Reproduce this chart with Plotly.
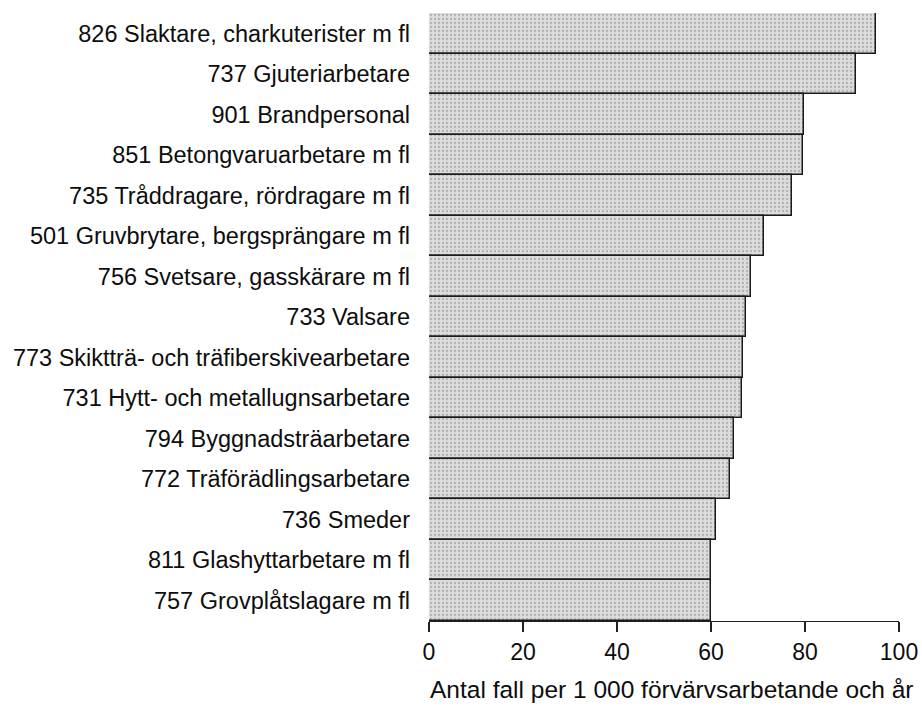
import plotly.graph_objects as go

# Occupations, listed from the top bar to the bottom bar
occupations = [
    "826 Slaktare, charkuterister m fl",
    "737 Gjuteriarbetare",
    "901 Brandpersonal",
    "851 Betongvaruarbetare m fl",
    "735 Tråddragare, rördragare m fl",
    "501 Gruvbrytare, bergsprängare m fl",
    "756 Svetsare, gasskärare m fl",
    "733 Valsare",
    "773 Skiktträ- och träfiberskivearbetare",
    "731 Hytt- och metallugnsarbetare",
    "794 Byggnadsträarbetare",
    "772 Träförädlingsarbetare",
    "736 Smeder",
    "811 Glashyttarbetare m fl",
    "757 Grovplåtslagare m fl",
]

# Cases per 1 000 employed per year
cases = [95.0, 90.9, 79.8, 79.5, 77.2, 71.3, 68.5, 67.4, 66.9, 66.7, 64.9, 64.0, 61.0, 59.9, 59.9]

x_ticks = [0, 20, 40, 60, 80, 100]
x_title = "Antal fall per 1 000 förvärvsarbetande och år"

FONT = "Liberation Sans, Arial, Helvetica, sans-serif"
INK = "#0d0d0d"

fig = go.Figure(
    go.Bar(
        x=cases,
        y=occupations,
        orientation="h",
        marker=dict(
            color="#d4d4d4",
            line=dict(color="#1a1a1a", width=1.5),
            pattern=dict(shape=".", fgcolor="#858585", bgcolor="#dcdcdc", size=4, solidity=0.25),
        ),
        hoverinfo="x+y",
    )
)

fig.update_layout(
    width=922,
    height=710,
    margin=dict(l=429, r=23, t=13, b=89),
    paper_bgcolor="white",
    plot_bgcolor="white",
    bargap=0,
    showlegend=False,
    font=dict(family=FONT, color=INK),
)

fig.update_xaxes(
    range=[0, 100],
    tickvals=x_ticks,
    ticktext=[str(v) for v in x_ticks],
    automargin=False,
    showgrid=False,
    zeroline=False,
    showline=True,
    linecolor="#222222",
    linewidth=1.2,
    ticks="outside",
    ticklen=10,
    tickwidth=1.5,
    tickcolor="#222222",
    tickfont=dict(size=23, family=FONT, color=INK),
)

fig.update_yaxes(
    autorange="reversed",
    automargin=False,
    showgrid=False,
    zeroline=False,
    showline=False,
    ticks="",
    ticklabelstandoff=18,
    tickfont=dict(size=23.5, family=FONT, color=INK),
)

# Axis caption under the tick labels, slightly right of the plot centre
fig.add_annotation(
    text=x_title,
    xref="paper",
    yref="paper",
    x=0.515,
    y=-0.113,
    xanchor="center",
    yanchor="middle",
    showarrow=False,
    font=dict(size=24.5, family=FONT, color=INK),
)

fig.write_html("out.html")
